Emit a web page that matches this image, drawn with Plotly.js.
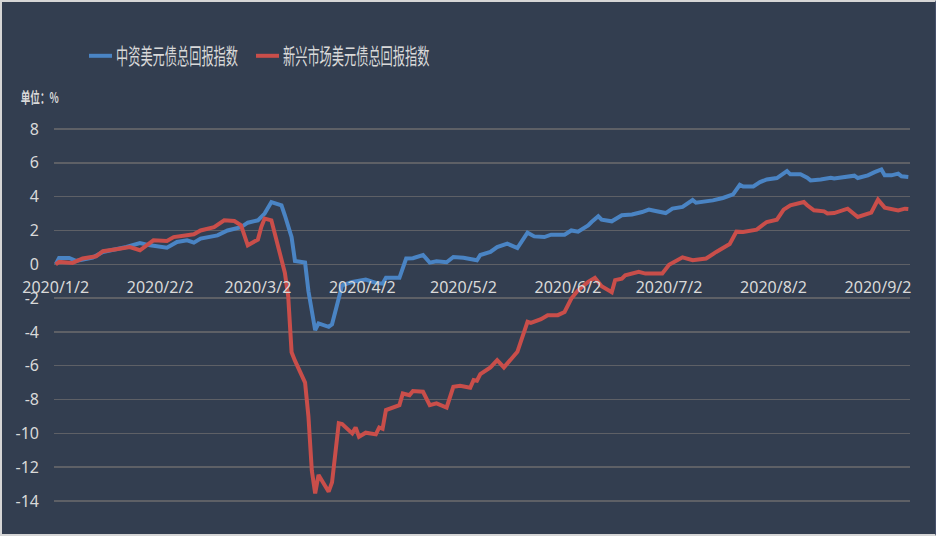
<!DOCTYPE html>
<html>
<head>
<meta charset="utf-8">
<script src="https://cdn.plot.ly/plotly-3.0.1.min.js"></script>
<style>
  html, body { margin: 0; padding: 0; background: #333e50; }
  #wrap { position: relative; width: 936px; height: 536px; overflow: hidden; }
  #chart { width: 936px; height: 536px; }
  #frame { position: absolute; left: 0; top: 0; width: 936px; height: 536px; box-sizing: border-box;
           border-top: 2px solid #d6d6d6; border-left: 2px solid #d6d6d6; border-bottom: 2px solid #d6d6d6;
           border-right: 1px solid #46506a; pointer-events: none; }
</style>
</head>
<body>
<div id="wrap"><div id="chart"></div><div id="frame"></div></div>
<script>
const seriesNames = ['中资美元债总回报指数', '新兴市场美元债总回报指数'];

const blueDates = ['2020-01-02','2020-01-03','2020-01-06','2020-01-08','2020-01-13','2020-01-16','2020-01-23','2020-01-27','2020-01-30',
 '2020-02-04','2020-02-07','2020-02-10','2020-02-12','2020-02-14','2020-02-19','2020-02-22','2020-02-26','2020-02-28',
 '2020-03-02','2020-03-04','2020-03-06','2020-03-09','2020-03-10','2020-03-11','2020-03-12','2020-03-13','2020-03-16','2020-03-17',
 '2020-03-18','2020-03-19','2020-03-20','2020-03-23','2020-03-24','2020-03-26','2020-03-27','2020-03-30',
 '2020-04-03','2020-04-06','2020-04-08','2020-04-09','2020-04-13','2020-04-15','2020-04-17','2020-04-20','2020-04-22','2020-04-24',
 '2020-04-27','2020-04-29','2020-05-02','2020-05-06','2020-05-07','2020-05-10','2020-05-12','2020-05-15','2020-05-18','2020-05-21',
 '2020-05-23','2020-05-26','2020-05-28','2020-06-01','2020-06-03','2020-06-05','2020-06-08','2020-06-09','2020-06-11','2020-06-12',
 '2020-06-15','2020-06-18','2020-06-21','2020-06-24','2020-06-26','2020-06-28','2020-07-01','2020-07-03','2020-07-06','2020-07-09',
 '2020-07-10','2020-07-15','2020-07-18','2020-07-21','2020-07-23','2020-07-24','2020-07-27','2020-07-29','2020-07-31',
 '2020-08-03','2020-08-05','2020-08-06','2020-08-07','2020-08-10','2020-08-12','2020-08-13','2020-08-16','2020-08-19','2020-08-20',
 '2020-08-24','2020-08-26','2020-08-27','2020-08-30','2020-09-01','2020-09-03','2020-09-04','2020-09-06','2020-09-08','2020-09-09','2020-09-11'];
const blueValues = [0, 0.37, 0.37, 0.2, 0.4, 0.73, 1.02, 1.26, 1.12,
 0.98, 1.32, 1.42, 1.28, 1.52, 1.71, 2.0, 2.2, 2.46,
 2.6, 3.0, 3.68, 3.49, 2.9, 2.2, 1.6, 0.2, 0.1, -1.6,
 -2.8, -3.9, -3.5, -3.7, -3.55, -1.9, -1.24, -1.04,
 -0.9, -1.1, -1.15, -0.8, -0.8, 0.34, 0.36, 0.55, 0.1, 0.18,
 0.12, 0.43, 0.39, 0.24, 0.55, 0.73, 1.02, 1.22, 0.96, 1.87,
 1.65, 1.61, 1.75, 1.75, 2.0, 1.93, 2.3, 2.5, 2.84, 2.64,
 2.54, 2.9, 2.95, 3.09, 3.23, 3.15, 3.03, 3.29, 3.39, 3.8,
 3.64, 3.78, 3.92, 4.13, 4.7, 4.6, 4.6, 4.86, 5.02,
 5.1, 5.39, 5.51, 5.32, 5.32, 5.12, 4.96, 5.02, 5.12, 5.08,
 5.2, 5.24, 5.1, 5.26, 5.45, 5.61, 5.26, 5.26, 5.36, 5.2, 5.16];

const redDates = ['2020-01-02','2020-01-03','2020-01-07','2020-01-10','2020-01-14','2020-01-16','2020-01-20','2020-01-24','2020-01-27','2020-01-31',
 '2020-02-04','2020-02-06','2020-02-12','2020-02-14','2020-02-18','2020-02-21','2020-02-24','2020-02-26','2020-02-28',
 '2020-03-02','2020-03-03','2020-03-04','2020-03-06','2020-03-09','2020-03-10','2020-03-11','2020-03-12','2020-03-13','2020-03-14',
 '2020-03-16','2020-03-17','2020-03-18','2020-03-19','2020-03-20','2020-03-23','2020-03-24','2020-03-26','2020-03-27','2020-03-30','2020-03-31',
 '2020-04-01','2020-04-03','2020-04-06','2020-04-07','2020-04-08','2020-04-09','2020-04-13','2020-04-14','2020-04-16','2020-04-17',
 '2020-04-20','2020-04-22','2020-04-24','2020-04-27','2020-04-29','2020-05-01','2020-05-04','2020-05-05','2020-05-06','2020-05-07',
 '2020-05-10','2020-05-12','2020-05-14','2020-05-16','2020-05-18','2020-05-21','2020-05-22','2020-05-25','2020-05-27','2020-05-30',
 '2020-06-01','2020-06-03','2020-06-05','2020-06-08','2020-06-10','2020-06-12','2020-06-15','2020-06-16','2020-06-18','2020-06-19',
 '2020-06-23','2020-06-25','2020-06-30','2020-07-02','2020-07-06','2020-07-09','2020-07-13','2020-07-16','2020-07-20','2020-07-22',
 '2020-07-24','2020-07-28','2020-07-31','2020-08-03','2020-08-05','2020-08-07','2020-08-11','2020-08-12','2020-08-14','2020-08-17',
 '2020-08-18','2020-08-20','2020-08-24','2020-08-27','2020-08-31','2020-09-02','2020-09-04','2020-09-08','2020-09-10','2020-09-11'];
const redValues = [0, 0.14, 0.08, 0.34, 0.47, 0.77, 0.89, 1.02, 0.83, 1.42,
 1.38, 1.61, 1.77, 2.0, 2.2, 2.6, 2.56, 2.3, 1.12,
 1.46, 2.2, 2.7, 2.6, 0.3, -0.5, -1.9, -5.2, -5.7, -6.1,
 -7.0, -9.0, -12.2, -13.55, -12.46, -13.45, -12.9, -9.4, -9.45, -10.0, -9.65,
 -10.2, -9.96, -10.06, -9.65, -9.73, -8.62, -8.33, -7.64, -7.74, -7.5,
 -7.54, -8.33, -8.23, -8.47, -7.25, -7.19, -7.3, -6.85, -6.89, -6.5,
 -6.1, -5.67, -6.1, -5.67, -5.18, -3.4, -3.47, -3.25, -3.01, -3.01,
 -2.82, -2.03, -1.54, -1.04, -0.8, -1.3, -1.65, -0.94, -0.85, -0.65,
 -0.45, -0.55, -0.55, -0.03, 0.41, 0.24, 0.34, 0.73, 1.2, 1.93,
 1.91, 2.05, 2.5, 2.64, 3.23, 3.49, 3.68, 3.49, 3.19, 3.13,
 3.0, 3.03, 3.29, 2.8, 3.05, 3.82, 3.35, 3.19, 3.29, 3.27];

const tickDates = ['2020-01-02','2020-02-02','2020-03-02','2020-04-02','2020-05-02','2020-06-02','2020-07-02','2020-08-02','2020-09-02'];
const tickLabels = ['2020/1/2','2020/2/2','2020/3/2','2020/4/2','2020/5/2','2020/6/2','2020/7/2','2020/8/2','2020/9/2'];
const yTicks = [-14, -12, -10, -8, -6, -4, -2, 0, 2, 4, 6, 8];
const unitLabel = '单位：%';

const textColor = '#d9d9d9';
const traces = [
  { x: blueDates, y: blueValues, name: seriesNames[0], type: 'scatter', mode: 'lines',
    line: { color: '#4a84c4', width: 4 } },
  { x: redDates, y: redValues, name: seriesNames[1], type: 'scatter', mode: 'lines',
    line: { color: '#c94e4a', width: 4 } }
];
const yMin = yTicks[0], yMax = yTicks[yTicks.length - 1];
const pad = 0.06;
const layout = {
  width: 936, height: 536,
  paper_bgcolor: '#333e50', plot_bgcolor: '#333e50',
  margin: { l: 54, r: 26, t: 128, b: 34, pad: 0 },
  font: { family: 'Noto Sans, Noto Sans CJK SC, sans-serif', color: textColor, size: 16 },
  showlegend: true,
  legend: {
    orientation: 'h', xref: 'container', yref: 'container',
    x: 76 / 936, xanchor: 'left', y: 1 - 56 / 536, yanchor: 'middle',
    font: { size: 22, color: textColor, family: 'Noto Sans CJK SC, sans-serif' },
    bgcolor: 'rgba(0,0,0,0)', itemwidth: 30, tracegroupgap: 0,
    entrywidthmode: 'pixels', entrywidth: 122
  },
  xaxis: {
    type: 'date',
    range: ['2020-01-01 12:00', '2020-09-11 12:00'],
    tickmode: 'array', tickvals: tickDates, ticktext: tickLabels,
    showgrid: false, zeroline: false, showline: false, ticks: '',
    anchor: 'free', position: (0 - (yMin - pad)) / (yMax - yMin + 2 * pad),
    ticklabelstandoff: 12,
    tickfont: { size: 16, color: textColor },
    fixedrange: true
  },
  yaxis: {
    range: [yMin - pad, yMax + pad],
    tickmode: 'array', tickvals: yTicks, ticktext: yTicks.map(String),
    showgrid: true, gridcolor: '#5e6066', gridwidth: 1.5,
    zeroline: false, showline: false, ticks: '',
    ticklabelstandoff: 14,
    tickfont: { size: 16, color: textColor },
    fixedrange: true
  },
  annotations: [{
    text: '<b>' + unitLabel + '</b>', xref: 'paper', yref: 'paper',
    x: (8 - 54) / 856, y: (502 - 97) / 374, xanchor: 'left', yanchor: 'middle',
    showarrow: false, font: { size: 15, color: textColor, family: 'Noto Sans CJK SC, sans-serif' }
  }]
};
Plotly.newPlot('chart', traces, layout, { displayModeBar: false, staticPlot: true }).then(function () {
  // condensed lettering and short legend keys, as in the reference
  document.querySelectorAll('#chart .legend [clip-path]').forEach(function (e) {
    e.removeAttribute('clip-path');
  });
  document.querySelectorAll('#chart .legend .legendlines path').forEach(function (p) {
    p.setAttribute('d', 'M13,0h23');
  });
  document.querySelectorAll('#chart .legendtext').forEach(function (t) {
    const x0 = parseFloat(t.getAttribute('x')) || 0;
    t.setAttribute('transform', 'translate(' + x0 + ',0) scale(0.555,1) translate(' + (-x0) + ',0)');
  });
  document.querySelectorAll('#chart .annotation-text').forEach(function (t) {
    const x0 = parseFloat(t.getAttribute('x')) || 0;
    t.setAttribute('transform', 'translate(' + x0 + ',0) scale(0.64,1) translate(' + (-x0) + ',0)');
  });
});
</script>
</body>
</html>
